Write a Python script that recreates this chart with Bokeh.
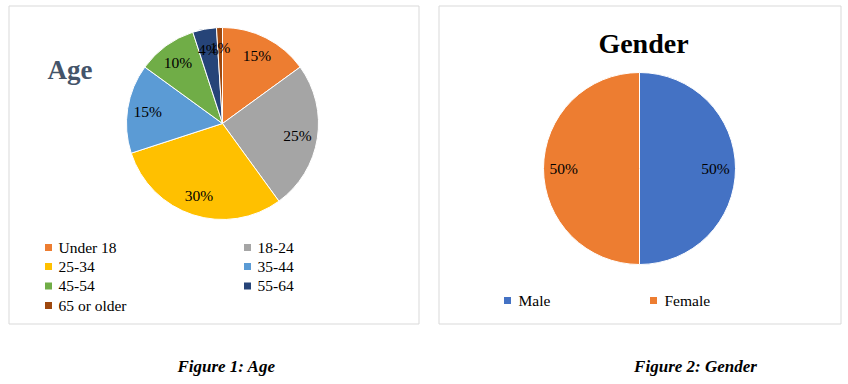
import numpy as np
from bokeh.plotting import figure
from bokeh.models import Range1d, ColumnDataSource
from bokeh.core.properties import value
from bokeh.embed import file_html
from bokeh.resources import INLINE

# ---------------- data ----------------
age_labels = ["Under 18", "18-24", "25-34", "35-44", "45-54", "55-64", "65 or older"]
age_values = [15, 25, 30, 15, 10, 4, 1]
age_colors = ["#ED7D31", "#A5A5A5", "#FFC000", "#5B9BD5", "#70AD47", "#264478", "#9E480E"]

gender_labels = ["Male", "Female"]
gender_values = [50, 50]
gender_colors = ["#4472C4", "#ED7D31"]

captions = ["Figure 1: Age", "Figure 2: Gender"]
titles = ["Age", "Gender"]

# ---------------- layout helpers (page pixel coords) ----------------
W, H = 848, 384
def Y(py):
    return H - py

SERIF = value("Liberation Serif")

p = figure(width=W, height=H, output_backend="svg", toolbar_location=None,
           x_range=Range1d(0, W), y_range=Range1d(0, H),
           min_border=0, min_border_left=0, min_border_right=0,
           min_border_top=0, min_border_bottom=0)
p.axis.visible = False
p.grid.visible = False
p.outline_line_color = None
p.background_fill_color = "white"
p.border_fill_color = "white"

# panel frames
p.quad(left=[8.5, 438.5], right=[418.5, 840.5], bottom=[Y(323.5), Y(323.5)], top=[Y(5.5), Y(5.5)],
       fill_color=None, line_color="#D9D9D9", line_width=1)

def draw_pie(cx, cy, r, values, colors):
    vals = np.array(values, dtype=float)
    frac = vals / vals.sum()
    cum = np.concatenate([[0], np.cumsum(frac)])
    start = np.pi / 2 - 2 * np.pi * cum[:-1]
    end = np.pi / 2 - 2 * np.pi * cum[1:]
    src = ColumnDataSource(dict(start=start, end=end, color=colors))
    p.wedge(x=cx, y=cy, radius=r, start_angle="start", end_angle="end",
            direction="clock", fill_color="color", line_color="white",
            line_width=1, source=src)
    mid = np.pi / 2 - 2 * np.pi * (cum[:-1] + frac / 2)
    lr = 0.79 * r
    lx = cx + lr * np.cos(mid)
    ly = cy + lr * np.sin(mid)
    txt = ["%d%%" % v for v in values]
    p.text(x=lx, y=ly, text=txt, text_align="center", text_baseline="middle",
           text_font=SERIF, text_font_size="15.5px", text_color="#000000")

# Age pie
draw_pie(222, Y(123), 96, age_values, age_colors)
# Gender pie
draw_pie(639, Y(168), 96, gender_values, gender_colors)

# titles
p.text(x=[47], y=[Y(69)], text=[titles[0]], text_align="left", text_baseline="alphabetic",
       text_font=SERIF, text_font_size="27px", text_font_style="bold", text_color="#44546A")
p.text(x=[643], y=[Y(43)], text=[titles[1]], text_align="center", text_baseline="alphabetic",
       text_font=SERIF, text_font_size="28px", text_font_style="bold", text_color="#000000")

# Age legend (2 columns)
n = len(age_labels)
col_x = [48, 247]
row_y = [247, 266, 285.5, 305]
mx = [col_x[i % 2] for i in range(n)]
my = [Y(row_y[i // 2]) for i in range(n)]
p.scatter(x=mx, y=my, marker="square", size=7, fill_color=age_colors, line_color=None)
p.text(x=[m + 10 for m in mx], y=my, text=age_labels, text_align="left", text_baseline="middle",
       text_font=SERIF, text_font_size="15.5px", text_color="#000000")

# Gender legend
gx = [507, 653]
gy = [Y(300)] * 2
p.scatter(x=gx, y=gy, marker="square", size=7, fill_color=gender_colors, line_color=None)
p.text(x=[g + 11 for g in gx], y=gy, text=gender_labels, text_align="left", text_baseline="middle",
       text_font=SERIF, text_font_size="15.5px", text_color="#000000")

# captions
p.text(x=[226, 695], y=[Y(366)] * 2, text=captions, text_align="center", text_baseline="middle",
       text_font=SERIF, text_font_size="17px", text_font_style="bold italic", text_color="#000000")

open("out.html", "w").write(file_html(p, INLINE))
